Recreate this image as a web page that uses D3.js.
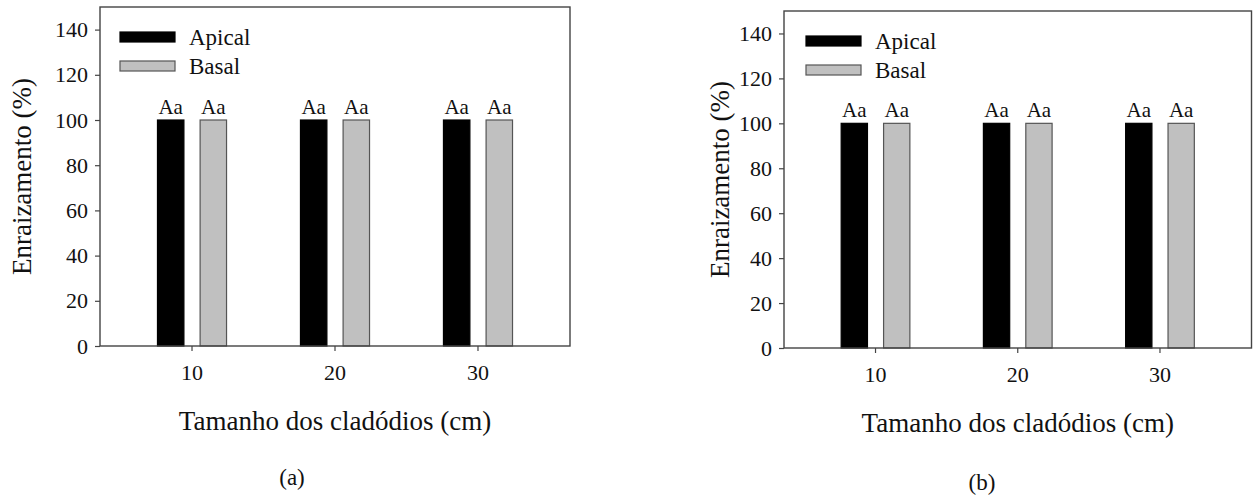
<!DOCTYPE html>
<html>
<head>
<meta charset="utf-8">
<script src="https://cdn.jsdelivr.net/npm/d3@7"></script>
<style>
  html, body { margin: 0; padding: 0; background: #fff; }
  svg { display: block; }
  text { font-family: "Liberation Serif", "Times New Roman", serif; fill: #111; }
</style>
</head>
<body>
<svg id="chart" width="1253" height="495"></svg>
<script>
// ---- data ----
const categories = ["10", "20", "30"];
const seriesNames = ["Apical", "Basal"];
const apicalA = [100, 100, 100];
const basalA = [100, 100, 100];
const apicalB = [100, 100, 100];
const basalB = [100, 100, 100];
const lettersApicalA = ["Aa", "Aa", "Aa"];
const lettersBasalA = ["Aa", "Aa", "Aa"];
const lettersApicalB = ["Aa", "Aa", "Aa"];
const lettersBasalB = ["Aa", "Aa", "Aa"];
const yTicks = [0, 20, 40, 60, 80, 100, 120, 140];
const yDomain = [0, 150];
const yTitle = "Enraizamento (%)";
const xTitle = "Tamanho dos cladódios (cm)";

const colors = { Apical: "#000000", Basal: "#c0c0c0" };
const strokes = { Apical: "#000000", Basal: "#555555" };

const svg = d3.select("#chart");

function drawPanel(cfg, apical, basal, lettersA, lettersB) {
  const g = svg.append("g");
  const x0 = d3.scaleBand().domain(categories)
    .range([cfg.left, cfg.right]).paddingInner(0.517).paddingOuter(0.402);
  const x1 = d3.scaleBand().domain(seriesNames)
    .range([0, x0.bandwidth()]).paddingInner(0.38).paddingOuter(0);
  const y = d3.scaleLinear().domain(yDomain).range([cfg.bottom, cfg.top]);

  const rows = categories.map((c, i) => ({
    cat: c,
    vals: [
      { s: "Apical", v: apical[i], t: lettersA[i] },
      { s: "Basal", v: basal[i], t: lettersB[i] }
    ]
  }));

  // bars
  const grp = g.selectAll("g.cat").data(rows).enter().append("g")
    .attr("transform", d => `translate(${x0(d.cat)},0)`);
  grp.selectAll("rect").data(d => d.vals).enter().append("rect")
    .attr("x", d => x1(d.s))
    .attr("width", x1.bandwidth())
    .attr("y", d => y(d.v))
    .attr("height", d => y(0) - y(d.v))
    .attr("fill", d => colors[d.s])
    .attr("stroke", d => strokes[d.s])
    .attr("stroke-width", 1.2);
  grp.selectAll("text").data(d => d.vals).enter().append("text")
    .attr("x", d => x1(d.s) + x1.bandwidth() / 2)
    .attr("y", d => y(d.v) - 6)
    .attr("text-anchor", "middle")
    .attr("font-size", 21)
    .text(d => d.t);

  // frame
  g.append("rect")
    .attr("x", cfg.left).attr("y", cfg.top)
    .attr("width", cfg.right - cfg.left).attr("height", cfg.bottom - cfg.top)
    .attr("fill", "none").attr("stroke", "#444").attr("stroke-width", 1.4);

  // y axis
  const yAxis = d3.axisLeft(y).tickValues(yTicks).tickSize(5).tickPadding(7);
  const ya = g.append("g").attr("transform", `translate(${cfg.left},0)`).call(yAxis);
  ya.select(".domain").remove();
  ya.selectAll("line").attr("stroke", "#444").attr("stroke-width", 1.2);
  ya.selectAll("text").attr("font-size", 22).attr("font-family", "Liberation Serif").attr("fill", "#111");

  // x axis
  const xAxis = d3.axisBottom(x0).tickSize(5).tickPadding(13);
  const xa = g.append("g").attr("transform", `translate(0,${cfg.bottom})`).call(xAxis);
  xa.select(".domain").remove();
  xa.selectAll("line").attr("stroke", "#444").attr("stroke-width", 1.2);
  xa.selectAll("text").attr("font-size", 22).attr("font-family", "Liberation Serif").attr("fill", "#111");

  // titles
  g.append("text")
    .attr("transform", `translate(${cfg.yTitleX},${(cfg.top + cfg.bottom) / 2}) rotate(-90)`)
    .attr("text-anchor", "middle").attr("dy", "0.35em")
    .attr("font-size", 27)
    .text(yTitle);
  g.append("text")
    .attr("x", (cfg.left + cfg.right) / 2).attr("y", cfg.xTitleY)
    .attr("text-anchor", "middle")
    .attr("font-size", 27)
    .text(xTitle);
  g.append("text")
    .attr("x", cfg.labelX).attr("y", cfg.labelY)
    .attr("text-anchor", "middle")
    .attr("font-size", 23)
    .text(cfg.label);

  // legend
  const lg = g.append("g").attr("transform", `translate(${cfg.left + cfg.legDx},${cfg.top + cfg.legDy})`);
  seriesNames.forEach((s, i) => {
    lg.append("rect")
      .attr("x", 0).attr("y", i * 29)
      .attr("width", 55).attr("height", 10)
      .attr("fill", colors[s]).attr("stroke", strokes[s]).attr("stroke-width", 1.2);
    lg.append("text")
      .attr("x", 69).attr("y", i * 29 + 13)
      .attr("font-size", 23)
      .text(s);
  });
}

drawPanel({ left: 100, right: 570, top: 7, bottom: 346, yTitleX: 22, xTitleY: 430,
            label: "(a)", labelX: 292, labelY: 485, legDx: 20, legDy: 25 },
          apicalA, basalA, lettersApicalA, lettersBasalA);
drawPanel({ left: 784, right: 1251.5, top: 11, bottom: 348, yTitleX: 720, xTitleY: 432,
            label: "(b)", labelX: 982, labelY: 490, legDx: 22, legDy: 25 },
          apicalB, basalB, lettersApicalB, lettersBasalB);
</script>
</body>
</html>
